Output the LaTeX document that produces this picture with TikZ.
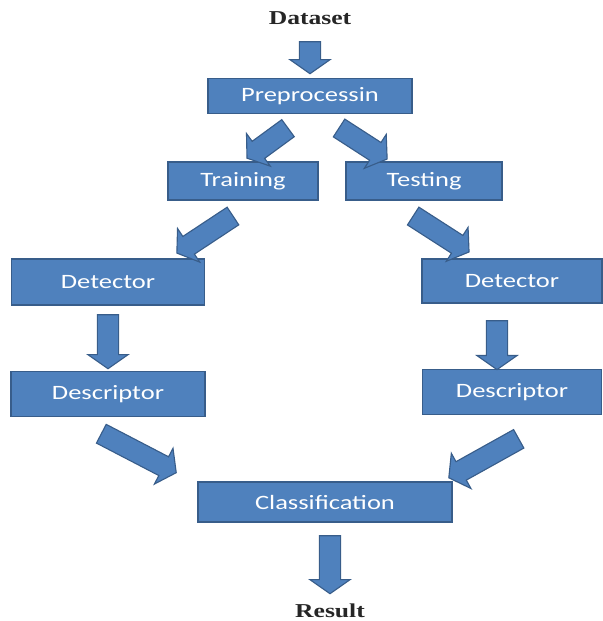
\documentclass[tikz,border=0pt]{standalone}
\usepackage{fontspec}
\setmainfont{Liberation Serif}
\newfontfamily\boxfont{Carlito}
\usetikzlibrary{shapes.arrows}
\definecolor{boxblue}{HTML}{4F81BD}
\definecolor{boxedge}{HTML}{385D8A}
\tikzset{
	stepbox/.style={draw=boxedge, fill=boxblue, line width=1.2pt, text=white,
		font=\boxfont\fontsize{14.5}{16}\selectfont, inner sep=0pt},
	endtext/.style={font=\bfseries\fontsize{14}{16}\selectfont, text=black!85},
	fatarrow/.style={single arrow, draw=boxedge, fill=boxblue, line width=0.8pt,
		inner xsep=0pt, inner ysep=0.25cm, single arrow head extend=0.24cm,
		single arrow tip angle=110, anchor=center}
}
\newcommand{\wide}[1]{\scalebox{1.3}[1]{#1}}
\newcommand{\bigarrow}[3]{\path (#1) -- (#2) node[midway, sloped, allow upside down, fatarrow, minimum height=#3] {};}

\begin{document}
\begin{tikzpicture}[x=0.025cm, y=-0.025cm]
	\useasboundingbox (0,0) rectangle (603,621);
	\node[endtext] (data) at (310,18) {\wide{Dataset}};
	\node[stepbox, minimum width=5.1cm, minimum height=0.875cm] (pre) at (310,96) {\wide{Preprocessin}};
	\node[stepbox, minimum width=3.75cm, minimum height=0.95cm] (train) at (243,181) {\wide{Training}};
	\node[stepbox, minimum width=3.9cm, minimum height=0.95cm] (test) at (424,181) {\wide{Testing}};
	\node[stepbox, minimum width=4.825cm, minimum height=1.15cm] (detl) at (108,282) {\wide{Detector}};
	\node[stepbox, minimum width=4.5cm, minimum height=1.1cm] (detr) at (512,281) {\wide{Detector}};
	\node[stepbox, minimum width=4.85cm, minimum height=1.125cm] (descl) at (108,394) {\wide{Descriptor}};
	\node[stepbox, minimum width=4.475cm, minimum height=1.125cm] (descr) at (512,392) {\wide{Descriptor}};
	\node[stepbox, minimum width=6.35cm, minimum height=1cm] (class) at (325,502) {\wide{Classification}};
	\node[endtext] (res) at (330,611) {\wide{Result}};

	% arrow ends
	\coordinate (a1s) at (310,38);  \coordinate (a1e) at (310,70);
	\coordinate (a2s) at (291,126); \coordinate (a2e) at (250,156);
	\coordinate (a3s) at (336,126); \coordinate (a3e) at (384,157);
	\coordinate (a4s) at (236,214); \coordinate (a4e) at (180,251);
	\coordinate (a5s) at (410,214); \coordinate (a5e) at (466,250);
	\coordinate (a6s) at (108,311); \coordinate (a6e) at (108,365);
	\coordinate (a7s) at (497,317); \coordinate (a7e) at (497,366);
	\coordinate (a8s) at (98,432);  \coordinate (a8e) at (173,471);
	\coordinate (a9s) at (522,437); \coordinate (a9e) at (452,476);
	\coordinate (a10s) at (330,532); \coordinate (a10e) at (330,590);

	\foreach \n/\len in {1/0.8, 2/1.27, 3/1.43, 4/1.68, 5/1.66, 6/1.35, 7/1.22, 8/2.11, 9/2.0, 10/1.45} {
		\bigarrow{a\n s}{a\n e}{\len cm}
	}
\end{tikzpicture}
\end{document}
